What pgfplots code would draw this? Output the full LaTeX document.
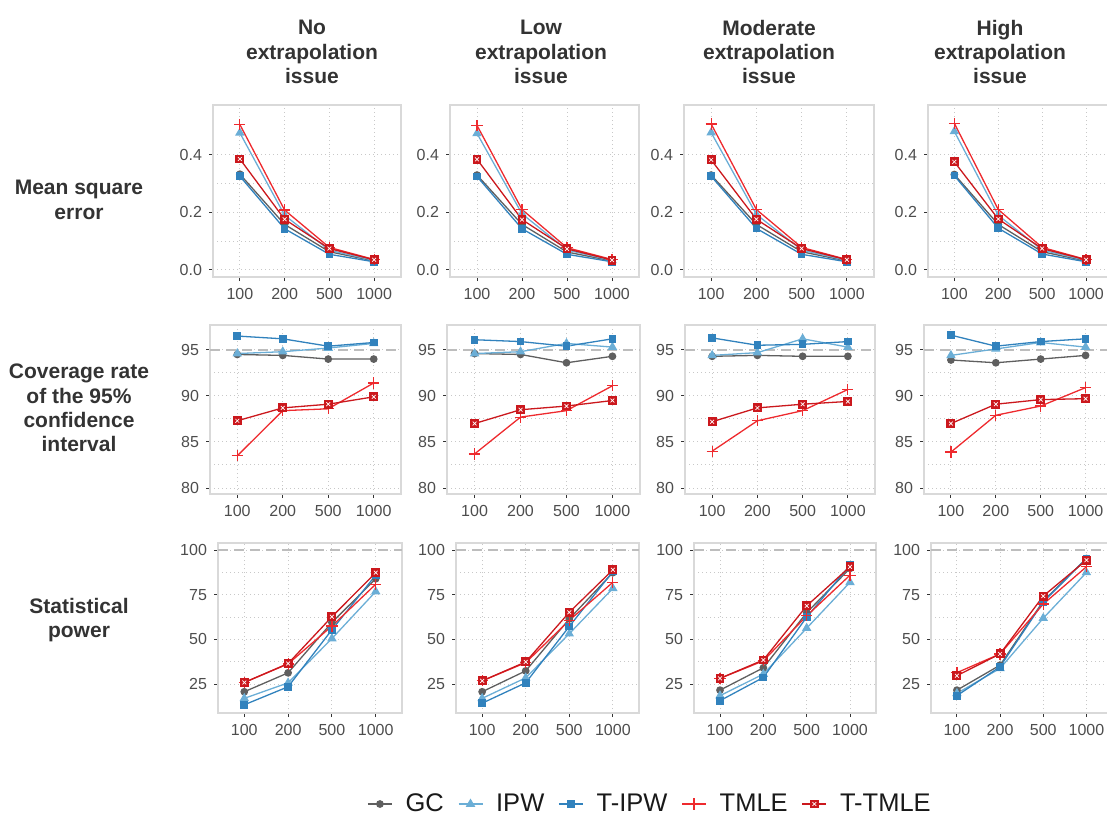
\documentclass[border=0pt]{standalone}
\usepackage{fontspec}
\setmainfont{Liberation Sans}
\setsansfont{Liberation Sans}
\usepackage{pgfplots}
\usepackage{pgfplotstable}
\pgfplotsset{compat=1.18}

\definecolor{gc}{HTML}{5F5F5F}
\definecolor{ipw}{HTML}{6BAED6}
\definecolor{tipw}{HTML}{3182BD}
\definecolor{tmle}{HTML}{EE2A2E}
\definecolor{ttmle}{HTML}{CB181D}
\definecolor{framec}{HTML}{D9D9D9}
\definecolor{gridc}{HTML}{C8C8C8}
\definecolor{refc}{HTML}{BDBDBD}
\definecolor{tickc}{HTML}{333333}
\definecolor{ticklab}{HTML}{4D4D4D}
\definecolor{titlec}{HTML}{333333}

% red square with a white cross (T-TMLE)
\pgfdeclareplotmark{sqx}{%
  \pgfpathrectangle{\pgfqpoint{-\pgfplotmarksize}{-\pgfplotmarksize}}{\pgfqpoint{2\pgfplotmarksize}{2\pgfplotmarksize}}%
  \pgfusepathqfillstroke
  \begin{pgfscope}\pgfsetstrokecolor{white}\pgfsetlinewidth{0.35pt}%
  \pgfpathmoveto{\pgfqpoint{-0.5\pgfplotmarksize}{-0.5\pgfplotmarksize}}\pgfpathlineto{\pgfqpoint{0.5\pgfplotmarksize}{0.5\pgfplotmarksize}}%
  \pgfpathmoveto{\pgfqpoint{-0.5\pgfplotmarksize}{0.5\pgfplotmarksize}}\pgfpathlineto{\pgfqpoint{0.5\pgfplotmarksize}{-0.5\pgfplotmarksize}}%
  \pgfusepathqstroke\end{pgfscope}}

% mean square error
\pgfplotstableread{
x GC IPW TIPW TMLE TTMLE
0 0.333 0.477 0.326 0.506 0.386
1 0.158 0.190 0.143 0.208 0.176
2 0.063 0.068 0.054 0.078 0.074
3 0.031 0.033 0.028 0.036 0.035
}\mA
\pgfplotstableread{
x GC IPW TIPW TMLE TTMLE
0 0.330 0.475 0.325 0.503 0.385
1 0.158 0.195 0.143 0.210 0.175
2 0.062 0.069 0.054 0.077 0.073
3 0.031 0.033 0.028 0.036 0.034
}\mB
\pgfplotstableread{
x GC IPW TIPW TMLE TTMLE
0 0.330 0.478 0.326 0.508 0.383
1 0.158 0.193 0.144 0.210 0.176
2 0.063 0.069 0.054 0.078 0.074
3 0.031 0.033 0.028 0.036 0.035
}\mC
\pgfplotstableread{
x GC IPW TIPW TMLE TTMLE
0 0.332 0.482 0.328 0.510 0.376
1 0.158 0.190 0.145 0.210 0.177
2 0.063 0.069 0.055 0.078 0.074
3 0.031 0.033 0.028 0.036 0.035
}\mD

% coverage rate
\pgfplotstableread{
x GC IPW TIPW TMLE TTMLE
0 94.5 94.6 96.5 83.5 87.3
1 94.4 94.8 96.2 88.4 88.7
2 94.0 95.2 95.4 88.6 89.1
3 94.0 95.7 95.8 91.4 89.9
}\cA
\pgfplotstableread{
x GC IPW TIPW TMLE TTMLE
0 94.6 94.6 96.1 83.7 87.0
1 94.5 94.8 95.9 87.7 88.5
2 93.6 95.7 95.4 88.4 88.9
3 94.3 95.3 96.2 91.1 89.5
}\cB
\pgfplotstableread{
x GC IPW TIPW TMLE TTMLE
0 94.3 94.4 96.3 84.0 87.2
1 94.4 94.7 95.5 87.3 88.7
2 94.3 96.2 95.6 88.4 89.1
3 94.3 95.3 95.9 90.7 89.4
}\cC
\pgfplotstableread{
x GC IPW TIPW TMLE TTMLE
0 93.9 94.4 96.6 83.9 87.0
1 93.6 95.1 95.4 87.9 89.1
2 94.0 95.8 95.9 88.9 89.6
3 94.4 95.3 96.2 90.9 89.7
}\cD

% statistical power
\pgfplotstableread{
x GC IPW TIPW TMLE TTMLE
0 20.7 17.0 13.4 25.9 25.9
1 31.3 25.7 23.5 36.3 36.5
2 59.5 50.5 55.4 57.5 62.7
3 84.0 76.8 86.0 80.9 87.4
}\pA
\pgfplotstableread{
x GC IPW TIPW TMLE TTMLE
0 20.7 17.0 14.3 26.8 26.8
1 32.4 28.5 25.7 37.0 37.4
2 61.5 53.2 57.3 60.7 65.2
3 87.4 78.6 88.0 82.0 89.0
}\pB
\pgfplotstableread{
x GC IPW TIPW TMLE TTMLE
0 21.6 18.5 15.7 28.2 28.2
1 34.1 30.6 28.7 38.0 38.5
2 65.0 56.3 62.5 63.2 68.8
3 89.8 82.0 91.6 86.0 90.7
}\pC
\pgfplotstableread{
x GC IPW TIPW TMLE TTMLE
0 21.6 19.8 18.5 31.4 29.7
1 35.6 33.8 34.7 41.9 41.9
2 71.5 61.9 71.0 69.8 74.3
3 95.3 87.5 95.3 90.7 94.4
}\pD

\pgfplotsset{
  gcst/.style={gc,line width=0.65pt,mark=*,mark size=1.6pt,mark options={solid,fill=gc,draw=gc}},
  ipwst/.style={ipw,line width=0.65pt,mark=triangle*,mark size=2.1pt,mark options={solid,fill=ipw,draw=ipw}},
  tipwst/.style={tipw,line width=0.65pt,mark=square*,mark size=1.6pt,mark options={solid,fill=tipw,draw=tipw}},
  tmlest/.style={tmle,line width=0.65pt,mark=+,mark size=2.8pt,mark options={solid,draw=tmle,line width=0.6pt}},
  ttmlest/.style={ttmle,line width=0.65pt,mark=sqx,mark size=1.9pt,mark options={solid,fill=ttmle,draw=ttmle}},
  panel/.style={scale only axis,xmin=-0.6,xmax=3.6,xtick={0,1,2,3},xticklabels={100,200,500,1000},
    axis line style={draw=framec,line width=0.75pt},
    tick align=outside,xtick pos=lower,ytick pos=left,major tick length=2pt,minor tick length=0pt,
    tick style={draw=tickc,line width=0.5pt},
    xmajorgrids,ymajorgrids,yminorgrids,minor y tick num=1,
    major grid style={draw=gridc,line width=0.5pt,dash pattern=on 0.5pt off 1.5pt},
    minor grid style={draw=gridc,line width=0.5pt,dash pattern=on 0.5pt off 1.5pt},
    tick label style={font=\fontsize{8}{9}\selectfont,text=ticklab},
    /pgf/number format/assume math mode=true,
    extra y tick labels={},
    extra y tick style={grid=major,major tick length=0pt,
      major grid style={draw=refc,line width=0.75pt,dash pattern=on 5pt off 3pt}}},
  row1/.style={ymin=-0.025,ymax=0.574,ytick={0,0.2,0.4},
    yticklabel style={/pgf/number format/.cd,fixed,fixed zerofill,precision=1}},
  row2/.style={ymin=79.35,ymax=97.7,ytick={80,85,90,95},extra y ticks={95}},
  row3/.style={ymin=8.8,ymax=104,ytick={25,50,75,100},extra y ticks={100}},
}

% #1 left, #2 right, #3 top, #4 bottom (pixels), #5 options, #6 table
\newcommand\panel[6]{%
  \pgfmathsetmacro\pL{#1*0.5}\pgfmathsetmacro\pB{(816-#4)*0.5}%
  \pgfmathsetmacro\pW{(#2-#1)*0.5}\pgfmathsetmacro\pH{(#4-#3)*0.5}%
  \begin{axis}[panel,#5,at={(\pL pt,\pB pt)},anchor=south west,width=\pW pt,height=\pH pt]
  \addplot[gcst] table[x=x,y=GC]{#6};
  \addplot[ipwst] table[x=x,y=IPW]{#6};
  \addplot[tipwst] table[x=x,y=TIPW]{#6};
  \addplot[tmlest] table[x=x,y=TMLE]{#6};
  \addplot[ttmlest] table[x=x,y=TTMLE]{#6};
  \end{axis}}

\begin{document}
\begin{tikzpicture}[x=1pt,y=1pt]
\panel{213}{401}{105}{277}{row1}{\mA}
\panel{450}{639}{105}{277}{row1}{\mB}
\panel{684}{874}{105}{277}{row1}{\mC}
\panel{928}{1108}{105}{277}{row1,xmax=3.5}{\mD}
\panel{210}{401}{325}{494}{row2}{\cA}
\panel{447}{640}{325}{494}{row2}{\cB}
\panel{685}{875}{325}{494}{row2}{\cC}
\panel{924}{1108}{325}{494}{row2,xmax=3.5}{\cD}
\panel{218}{402}{543}{713}{row3}{\pA}
\panel{456}{639}{543}{713}{row3}{\pB}
\panel{694}{876}{543}{713}{row3}{\pC}
\panel{931}{1108}{543}{713}{row3,xmax=3.5}{\pD}

% legend
\begin{axis}[at={(0pt,0pt)},anchor=south west,scale only axis,width=553.5pt,height=408pt,
  hide axis,xmin=0,xmax=1,ymin=0,ymax=1,
  legend columns=5,
  legend style={at={(651/1107,12/816)},anchor=center,draw=none,fill=none,
    font=\fontsize{12.75}{14}\selectfont,text=black!90,
    /tikz/every odd column/.append style={column sep=4.5pt},
    /tikz/every even column/.append style={column sep=5pt}},
  legend image code/.code={\draw[mark repeat=2,mark phase=2] plot coordinates {(0pt,0pt) (6pt,0pt) (12pt,0pt)};}]
\addlegendimage{gcst}\addlegendentry{GC}
\addlegendimage{ipwst}\addlegendentry{IPW}
\addlegendimage{tipwst}\addlegendentry{T-IPW}
\addlegendimage{tmlest}\addlegendentry{TMLE}
\addlegendimage{ttmlest}\addlegendentry{T-TMLE}
\end{axis}

\begin{scope}[every node/.style={font=\bfseries\fontsize{10.5}{12.2}\selectfont,text=titlec,align=center}]
\node at (156,382) {No\\extrapolation\\issue};
\node at (270.5,382) {Low\\extrapolation\\issue};
\node at (384.5,382) {Moderate\\extrapolation\\issue};
\node at (500,382) {High\\extrapolation\\issue};
\node at (39.5,308) {Mean square\\error};
\node at (39.5,204) {Coverage rate\\of the 95\%\\confidence\\interval};
\node at (39.5,98) {Statistical\\power};
\end{scope}

\pgfresetboundingbox
\path (0,0) rectangle (553.5,408);
\end{tikzpicture}
\end{document}
